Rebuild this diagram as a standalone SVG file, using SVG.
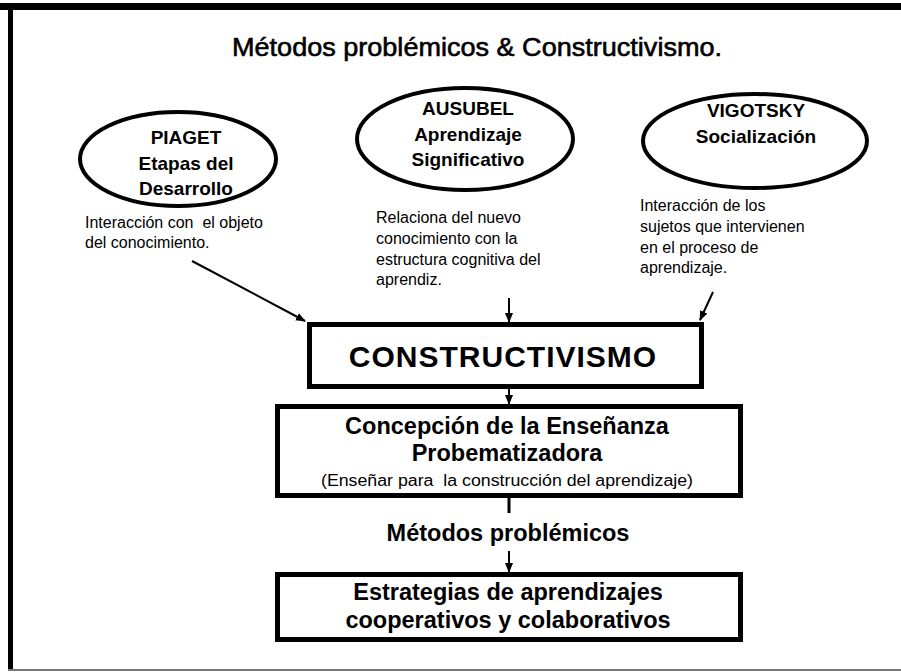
<svg xmlns="http://www.w3.org/2000/svg" width="901" height="672" viewBox="0 0 901 672">
<defs>
<marker id="ah" viewBox="0 0 10 10" refX="9" refY="5" markerWidth="10" markerHeight="10" markerUnits="userSpaceOnUse" orient="auto">
<path d="M0,1 L10,5 L0,9 z" fill="#000"/>
</marker>
<style>
.t{font-family:"Liberation Sans",Arial,sans-serif;fill:#000}
.b{font-weight:bold}
.el{fill:#fff;stroke:#000;stroke-width:4}
.bx{fill:#fff;stroke:#000;stroke-width:5}
.ln{stroke:#000;stroke-width:2;fill:none}
.d{font-size:16px}
</style>
</defs>
<rect width="901" height="672" fill="#fff"/>
<g id="frame">
<rect x="0" y="3" width="901" height="7" fill="#000"/>
<rect x="8" y="3" width="5" height="668" fill="#000"/>
<rect x="8" y="669" width="893" height="2" fill="#777"/>
</g>
<text class="t" x="477" y="56" font-size="26" text-anchor="middle" textLength="490" lengthAdjust="spacingAndGlyphs" stroke="#000" stroke-width="0.6">Métodos problémicos &amp; Constructivismo.</text>
<g id="piaget">
<ellipse class="el" cx="178" cy="159" rx="98" ry="47"/>
<text class="t b" font-size="19" text-anchor="middle"><tspan x="186" y="144">PIAGET</tspan><tspan x="186" y="170">Etapas del</tspan><tspan x="186" y="195">Desarrollo</tspan></text>
</g>
<g id="ausubel">
<ellipse class="el" cx="465" cy="139" rx="108" ry="51"/>
<text class="t b" font-size="19" text-anchor="middle"><tspan x="468" y="115">AUSUBEL</tspan><tspan x="468" y="141">Aprendizaje</tspan><tspan x="468" y="166">Significativo</tspan></text>
</g>
<g id="vigotsky">
<ellipse class="el" cx="755" cy="141" rx="112" ry="47"/>
<text class="t b" font-size="19" text-anchor="middle"><tspan x="756" y="117">VIGOTSKY</tspan><tspan x="756" y="143">Socialización</tspan></text>
</g>
<g id="piaget-desc">
<text class="t d" xml:space="preserve"><tspan x="85" y="228">Interacción con  el objeto</tspan><tspan x="85" y="248">del conocimiento.</tspan></text>
</g>
<g id="ausubel-desc">
<text class="t d"><tspan x="376" y="223">Relaciona del nuevo</tspan><tspan x="376" y="244">conocimiento con la</tspan><tspan x="376" y="265">estructura cognitiva del</tspan><tspan x="376" y="285">aprendiz.</tspan></text>
</g>
<g id="vigotsky-desc">
<text class="t d"><tspan x="640" y="211">Interacción de los</tspan><tspan x="640" y="232">sujetos que intervienen</tspan><tspan x="640" y="253">en el proceso de</tspan><tspan x="640" y="273">aprendizaje.</tspan></text>
</g>
<g id="constructivismo">
<rect class="bx" x="309.5" y="324.5" width="392" height="62"/>
<text class="t b" x="503" y="367" font-size="30" letter-spacing="1" text-anchor="middle">CONSTRUCTIVISMO</text>
</g>
<g id="concepcion">
<rect class="bx" x="277.5" y="406.5" width="463" height="89"/>
<text class="t b" font-size="23.5" text-anchor="middle"><tspan x="507" y="434">Concepción de la Enseñanza</tspan><tspan x="507" y="461">Probematizadora</tspan></text>
<text class="t" x="507" y="486" font-size="16" text-anchor="middle" xml:space="preserve" textLength="372" lengthAdjust="spacingAndGlyphs">(Enseñar para  la construcción del aprendizaje)</text>
</g>
<g id="metodos">
<text class="t b" x="508" y="541" font-size="23.5" text-anchor="middle">Métodos problémicos</text>
</g>
<g id="estrategias">
<rect class="bx" x="277.5" y="574.5" width="463" height="65"/>
<text class="t b" font-size="23.5" text-anchor="middle"><tspan x="508" y="600">Estrategias de aprendizajes</tspan><tspan x="508" y="628">cooperativos y colaborativos</tspan></text>
</g>
<g id="connectors">
<line class="ln" x1="192" y1="261" x2="305" y2="321" marker-end="url(#ah)"/>
<line class="ln" x1="509" y1="298" x2="509" y2="322" marker-end="url(#ah)"/>
<line class="ln" x1="713" y1="292" x2="700" y2="320" marker-end="url(#ah)"/>
<line class="ln" x1="509" y1="388" x2="509" y2="404" marker-end="url(#ah)"/>
<line class="ln" x1="509" y1="498" x2="509" y2="513" style="stroke-width:3"/>
<line class="ln" x1="509" y1="551" x2="509" y2="572" marker-end="url(#ah)"/>
</g>
</svg>
